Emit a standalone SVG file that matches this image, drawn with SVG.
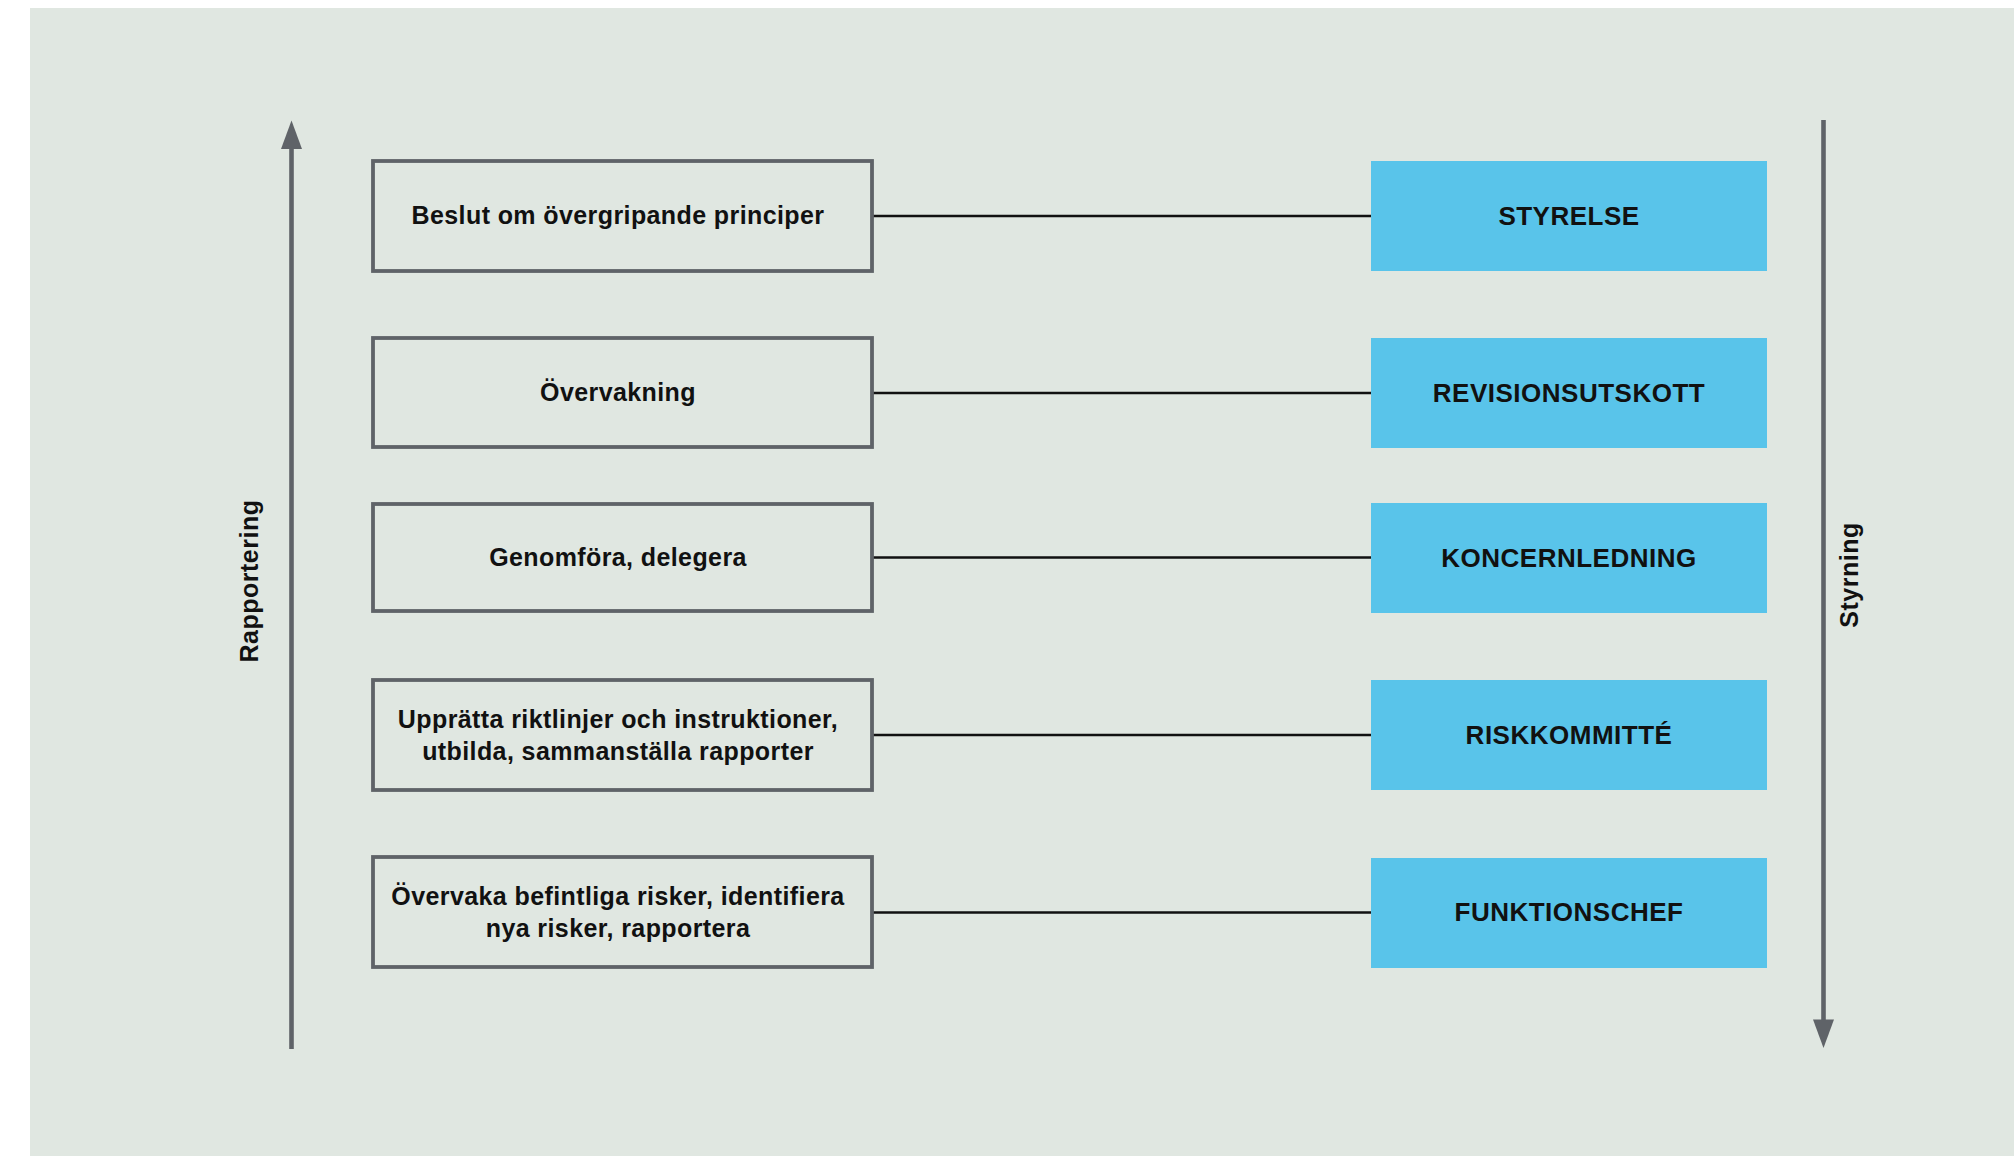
<svg xmlns="http://www.w3.org/2000/svg" width="2014" height="1156" viewBox="0 0 2014 1156">
  <style>
    .bg { fill: #e0e7e1; }
    .lbox { fill: #e0e7e1; stroke: #5f6368; stroke-width: 3.8; }
    .rbox { fill: #59c4ea; }
    .conn { stroke: #111111; stroke-width: 2.4; fill: none; }
    .axis { stroke: #5f6368; stroke-width: 4.6; fill: none; }
    .head { fill: #5f6368; }
    .lt { font-family: "Liberation Sans", Arial, sans-serif; font-weight: bold; font-size: 25px; letter-spacing: 0.4px; fill: #111111; text-anchor: middle; }
    .rt { font-family: "Liberation Sans", Arial, sans-serif; font-weight: bold; font-size: 26px; letter-spacing: 0.5px; fill: #111111; text-anchor: middle; }
    .vt { font-family: "Liberation Sans", Arial, sans-serif; font-weight: bold; font-size: 25px; letter-spacing: 0.5px; fill: #111111; text-anchor: middle; }
  </style>
  <rect class="bg" x="30" y="8" width="1984" height="1148"/>

  <g id="axes">
    <line class="axis" x1="291.5" y1="146" x2="291.5" y2="1049"/>
    <polygon class="head" points="291.5,120.5 281,149 302,149"/>
    <line class="axis" x1="1823.5" y1="120" x2="1823.5" y2="1023"/>
    <polygon class="head" points="1823.5,1048 1813,1019.5 1834,1019.5"/>
    <text id="rapportering" class="vt" transform="translate(258,581) rotate(-90)">Rapportering</text>
    <text id="styrning" class="vt" transform="translate(1858,575) rotate(-90)">Styrning</text>
  </g>

  <g id="connectors">
    <line class="conn" x1="873" y1="216" x2="1371" y2="216"/>
    <line class="conn" x1="873" y1="393" x2="1371" y2="393"/>
    <line class="conn" x1="873" y1="557.5" x2="1371" y2="557.5"/>
    <line class="conn" x1="873" y1="735" x2="1371" y2="735"/>
    <line class="conn" x1="873" y1="912.5" x2="1371" y2="912.5"/>
  </g>

  <g id="task1">
    <rect class="lbox" x="373" y="161" width="499" height="110"/>
    <text class="lt" x="618" y="224.3">Beslut om övergripande principer</text>
  </g>
  <g id="task2">
    <rect class="lbox" x="373" y="338" width="499" height="109"/>
    <text class="lt" x="618" y="401.3">Övervakning</text>
  </g>
  <g id="task3">
    <rect class="lbox" x="373" y="504" width="499" height="107"/>
    <text class="lt" x="618" y="565.8">Genomföra, delegera</text>
  </g>
  <g id="task4">
    <rect class="lbox" x="373" y="680" width="499" height="110"/>
    <text class="lt" x="618" y="728">Upprätta riktlinjer och instruktioner,</text>
    <text class="lt" x="618" y="760">utbilda, sammanställa rapporter</text>
  </g>
  <g id="task5">
    <rect class="lbox" x="373" y="857" width="499" height="110"/>
    <text class="lt" x="618" y="905">Övervaka befintliga risker, identifiera</text>
    <text class="lt" x="618" y="937">nya risker, rapportera</text>
  </g>

  <g id="styrelse">
    <rect class="rbox" x="1371" y="161" width="396" height="110"/>
    <text class="rt" x="1569" y="224.8">STYRELSE</text>
  </g>
  <g id="revisionsutskott">
    <rect class="rbox" x="1371" y="338" width="396" height="110"/>
    <text class="rt" x="1569" y="401.8">REVISIONSUTSKOTT</text>
  </g>
  <g id="koncernledning">
    <rect class="rbox" x="1371" y="503" width="396" height="110"/>
    <text class="rt" x="1569" y="566.8">KONCERNLEDNING</text>
  </g>
  <g id="riskkommitte">
    <rect class="rbox" x="1371" y="680" width="396" height="110"/>
    <text class="rt" x="1569" y="743.8">RISKKOMMITTÉ</text>
  </g>
  <g id="funktionschef">
    <rect class="rbox" x="1371" y="858" width="396" height="110"/>
    <text class="rt" x="1569" y="921.3">FUNKTIONSCHEF</text>
  </g>
</svg>
